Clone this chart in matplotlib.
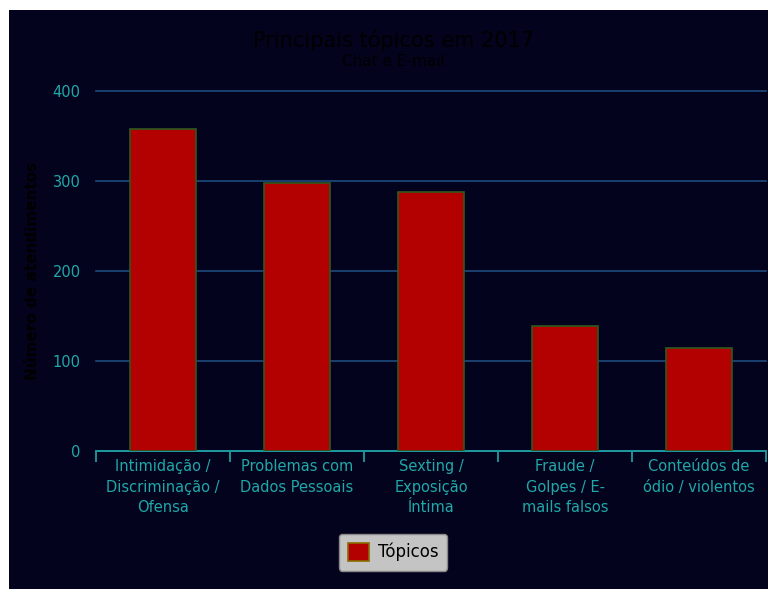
import matplotlib.pyplot as plt
from matplotlib.patches import Rectangle

# Tópicos atendidos em 2017 (Chat e E-mail)
categorias = ['Intimidação /\nDiscriminação /\nOfensa',
              'Problemas com\nDados Pessoais',
              'Sexting /\nExposição\nÍntima',
              'Fraude /\nGolpes / E-\nmails falsos',
              'Conteúdos de\nódio / violentos']
atendimentos = [358, 298, 288, 139, 115]
yticks = [0, 100, 200, 300, 400]

fundo = '#04031e'
texto_eixo = '#1fa8a8'

fig = plt.figure(figsize=(7.68, 5.89), dpi=100)
fig.patch.set_facecolor('white')
fig.patches.append(Rectangle((9 / 768, 0), 1, 1 - 10 / 589, transform=fig.transFigure,
                             facecolor=fundo, edgecolor='none', zorder=-10))

ax = fig.add_axes([96 / 768, 1 - 451 / 589, 670 / 768, 360 / 589])
ax.set_facecolor('none')

x = range(len(categorias))
ax.bar(x, atendimentos, width=0.49, color='#b30000', edgecolor='#2f5a1e', linewidth=1.2, zorder=3,
       label='Tópicos')

ax.set_xlim(-0.5, len(categorias) - 0.5)
ax.set_ylim(0, 400)
ax.set_yticks(yticks)
ax.yaxis.grid(True, color='#1c4a7c', linewidth=1.2, zorder=0, clip_on=False)
ax.set_axisbelow(True)

ax.set_xticks([i - 0.5 for i in range(len(categorias) + 1)], minor=False)
ax.set_xticklabels([])
ax.set_xticks(list(x), minor=True)
ax.set_xticklabels(categorias, minor=True, color=texto_eixo, fontsize=10.5, linespacing=1.45)
ax.tick_params(axis='x', which='major', length=8, color=texto_eixo, width=1.2)
ax.tick_params(axis='x', which='minor', length=0, pad=6)
ax.tick_params(axis='y', length=0, labelcolor=texto_eixo, labelsize=10.5, pad=11)

for lado in ['top', 'right', 'left']:
    ax.spines[lado].set_visible(False)
ax.spines['bottom'].set_color(texto_eixo)
ax.spines['bottom'].set_linewidth(1.2)

ax.set_ylabel('Número de atendimentos', color='black', fontsize=11, fontweight='bold')
ax.yaxis.set_label_coords(-0.083, 0.5)

fig.text(0.512, 1 - 40 / 589, 'Principais tópicos em 2017', ha='center', va='center',
         color='black', fontsize=15)
fig.text(0.512, 1 - 62 / 589, 'Chat e E-mail', ha='center', va='center',
         color='black', fontsize=11)

leg = fig.legend(loc='center', bbox_to_anchor=(393 / 768, 1 - 552 / 589), frameon=True,
                 fontsize=12, handlelength=1.3, handleheight=1.3, handletextpad=0.5,
                 borderpad=0.55, fancybox=True)
leg.get_frame().set_facecolor('#c4c4c4')
leg.get_frame().set_edgecolor('#888888')
leg.get_frame().set_alpha(1)
leg.legend_handles[0].set_edgecolor('#8a6a00')

fig.savefig('out.png', dpi=100, facecolor=fig.get_facecolor())
